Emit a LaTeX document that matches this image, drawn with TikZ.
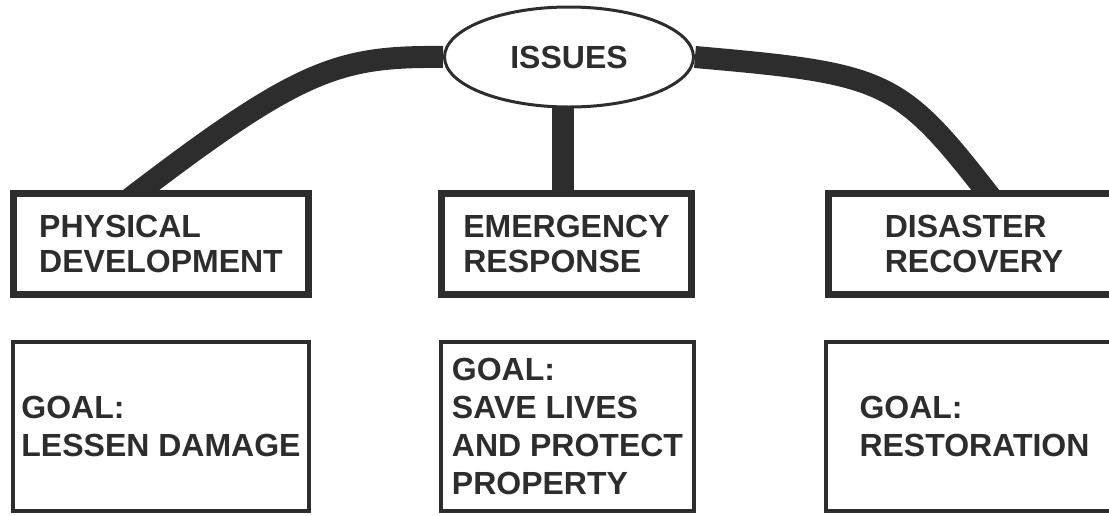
\documentclass[tikz,border=0pt]{standalone}
\usepackage{fontspec}
\setmainfont{Liberation Sans}
\usepackage{tikz}
\usetikzlibrary{shapes.geometric,backgrounds}
\definecolor{ink}{RGB}{45,45,45}

\begin{document}
\begin{tikzpicture}[x = 1pt, y = -1pt,
	every node/.style = {font = \bfseries\fontsize{32}{35}\selectfont, text = ink, align = left, inner sep = 0pt},
	issue/.style = {draw = ink, shape = ellipse, fill = white, line width = 3pt, minimum width = 249pt, minimum height = 100pt},
	topic/.style = {draw = ink, shape = rectangle, fill = white, line width = 7pt, minimum height = 101pt},
	goalbox/.style = {draw = ink, shape = rectangle, fill = white, line width = 4pt, minimum height = 169pt, font = \bfseries\fontsize{32}{38}\selectfont},
	link/.style = {draw = ink, line width = 22pt}]
	\useasboundingbox (0, 0) rectangle (1109, 515);
	\node (issues) at (569, 57) [issue] {ISSUES};
	\node (phys) at (161, 244) [topic, minimum width = 295pt] {PHYSICAL\\DEVELOPMENT};
	\node (emerg) at (566.5, 244) [topic, minimum width = 250pt] {EMERGENCY\\RESPONSE};
	\node (disas) at (974, 244) [topic, minimum width = 291pt] {DISASTER\\RECOVERY};
	\node (goalphys) at (161, 426.5) [goalbox, minimum width = 296pt] {GOAL:\\LESSEN DAMAGE};
	\node (goalemerg) at (567.5, 426.5) [goalbox, minimum width = 253pt] {GOAL:\\SAVE LIVES\\AND PROTECT\\PROPERTY};
	\node (goaldisas) at (974.5, 426.5) [goalbox, minimum width = 297pt] {GOAL:\\RESTORATION};
	\begin{scope}[on background layer]
		\fill[white] (0, 0) rectangle (1109, 515);
		\draw[link] (issues.west) .. controls +(-104, -1) and +(172, -132) .. ([xshift = -33pt, yshift = -10pt]phys.north);
		\draw[link] ([xshift = -6pt]issues.center) -- ([xshift = -6pt]issues.center |- emerg.north);
		\draw[link] (issues.east) .. controls +(194, 17) and +(-94, -121) .. ([xshift = 19pt, yshift = -10pt]disas.north);
	\end{scope}
\end{tikzpicture}
\end{document}
